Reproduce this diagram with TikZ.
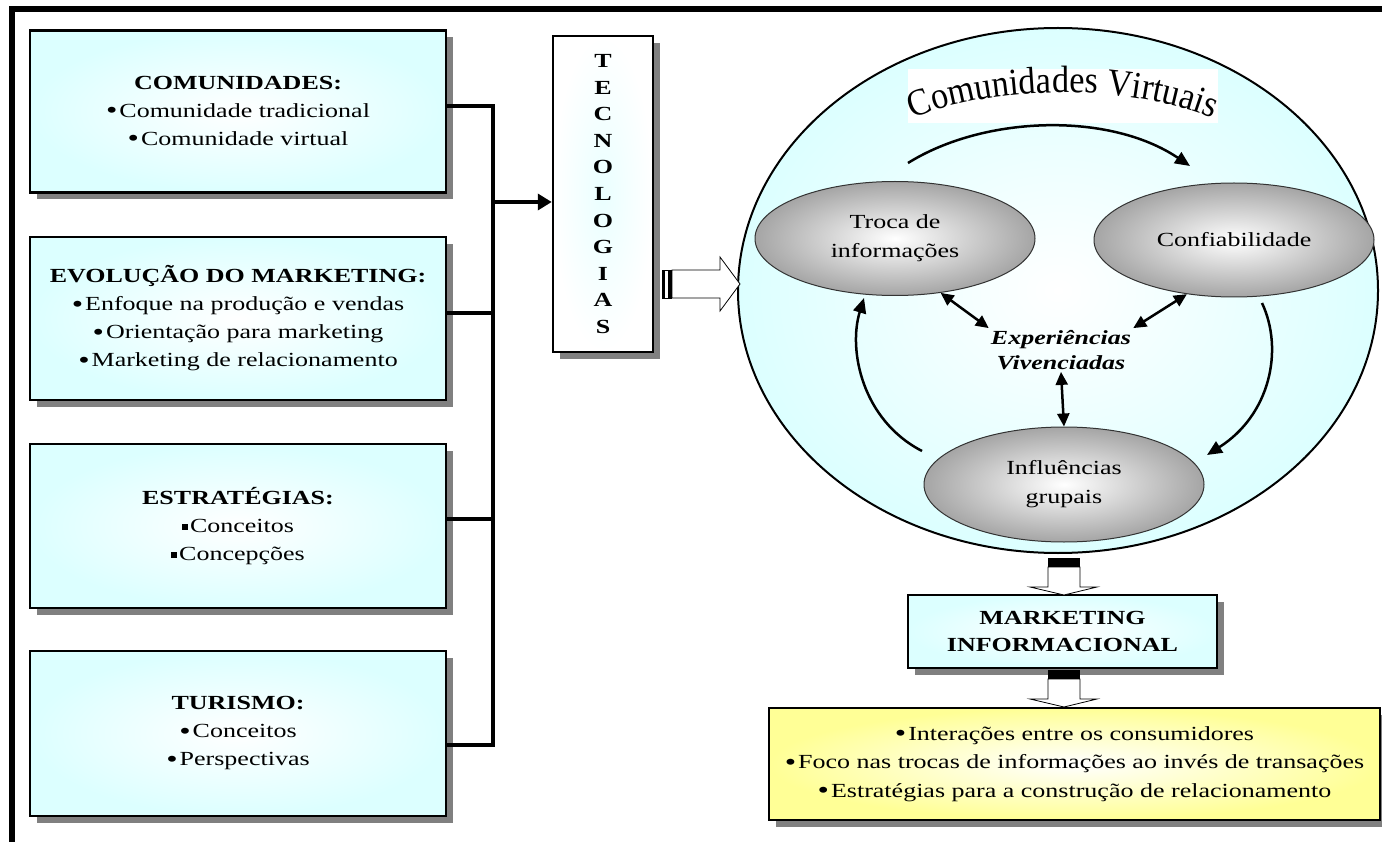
\documentclass[tikz,border=0pt]{standalone}
\usepackage{fontspec}
\setmainfont{Liberation Serif}[FakeStretch=1.3]
\newfontfamily\arcfont{Liberation Serif}[FakeStretch=0.9]
\usetikzlibrary{shapes.geometric,arrows.meta,shadows,decorations.text,calc}

\definecolor{boxcyan}{RGB}{220,255,255}
\definecolor{ellgray}{RGB}{165,165,165}
\definecolor{boxyellow}{RGB}{255,255,150}
\definecolor{shadowgray}{RGB}{128,128,128}

\newcommand{\itembullet}{\raisebox{-1.6pt}{\scalebox{1.25}{\textbullet}}\hspace{2pt}}
\newcommand{\itemsquare}{\rule[2pt]{6pt}{6pt}\hspace{2pt}}

\begin{document}
\begin{tikzpicture}[x=1pt,y=-1pt,
  txt/.style={font=\fontsize{20}{28}\selectfont, align=center},
  boxshadow/.style={drop shadow={shadow xshift=7pt, shadow yshift=-7pt, fill=shadowgray, opacity=1}},
  topicbox/.style={txt, draw=black, line width=2.5pt, minimum width=416pt, minimum height=162pt,
    inner color=white, outer color=boxcyan, boxshadow},
  oval/.style={ellipse, draw=black!80, line width=1pt, minimum width=280pt, minimum height=114pt,
    inner color=white, outer color=ellgray, font=\fontsize{20}{29}\selectfont, align=center, inner sep=0pt},
  conn/.style={line width=4pt},
  flow/.style={line width=2.5pt, -{Triangle[length=15pt,width=13pt]}},
  twoway/.style={line width=2.5pt, {Triangle[length=13pt,width=12pt]}-{Triangle[length=13pt,width=12pt]}},
  hollow/.style={draw=black, line width=0.8pt, fill=white}
]
\useasboundingbox (0,0) rectangle (1382,842);
\fill[white] (0,0) rectangle (1382,842);

% page frame (top and left edges)
\fill[black] (9,6) rectangle (1382,12);
\fill[black] (9,6) rectangle (15,842);

% topic boxes on the left
\node[topicbox] (b1) at (238,111.5) {{\bfseries COMUNIDADES:}\\ \itembullet Comunidade tradicional\\ \itembullet Comunidade virtual};
\node[topicbox, minimum height=163pt] (b2) at (238,318.5) {{\bfseries EVOLUÇÃO DO MARKETING:}\\ \itembullet Enfoque na produção e vendas\\ \itembullet Orientação para marketing\\ \itembullet Marketing de relacionamento};
\node[topicbox, minimum height=164pt] (b3) at (238,526) {{\bfseries ESTRATÉGIAS:}\\ \itemsquare Conceitos\\ \itemsquare Concepções};
\node[topicbox, minimum height=165pt] (b4) at (238,733.5) {{\bfseries TURISMO:}\\ \itembullet Conceitos\\ \itembullet Perspectivas};

% technology column
\node[draw=black, line width=2.5pt, minimum width=100pt, minimum height=316pt, inner color=boxcyan!60, outer color=white,
  boxshadow, font=\bfseries\fontsize{20}{26.6}\selectfont, align=center] (tec) at (603,194)
  {T\\E\\C\\N\\O\\L\\O\\G\\I\\A\\S};

% bus joining the topic boxes
\coordinate (busbot) at (493,745);
\coordinate (busmid) at (493,202);
\draw[conn] ([yshift=5.5pt]b1.east) -| (busbot) -- ([yshift=-11.5pt]b4.east);
\draw[conn] ([yshift=5.5pt]b2.east) -- ++(47,0);
\draw[conn] ([yshift=7pt]b3.east) -- ++(47,0);
\draw[conn, -{Triangle[length=14pt,width=16pt]}] (busmid) -- (busmid -| tec.west);

% virtual communities
\node[ellipse, draw=black, line width=2pt, minimum width=640pt, minimum height=525pt,
  inner color=white, outer color=boxcyan] (cv) at (1058,290.5) {};
\node[fill=white, minimum width=310pt, minimum height=54pt, inner sep=0pt] (cvtitle) at (1063,96) {};
\path[decorate, decoration={text along path, text align=center,
  text={|\arcfont\fontsize{38}{38}\selectfont|Comunidades Virtuais}}]
  (890,130) .. controls (975,80) and (1150,80) .. (1236,130);

\node[oval] (troca) at (895,238.5) {Troca de\\informações};
\node[oval] (conf) at (1234,240) {Confiabilidade};
\node[oval, minimum height=115pt] (infl) at (1064,484.5) {Influências\\grupais};
\node[font=\bfseries\itshape\fontsize{20}{25}\selectfont, align=center, inner sep=2pt] (exp) at (1061,350)
  {Experiências\\Vivenciadas};

% cycle arrows
\coordinate (a1) at (908,163);
\coordinate (a2) at (1190,166);
\coordinate (l1) at (922,451);
\coordinate (l2) at (864,298);
\coordinate (r1) at (1262,303);
\coordinate (r2) at (1207,455);
\draw[flow] (a1) .. controls (985,115) and (1110,112) .. (a2);
\draw[flow] (l1) .. controls (862,420) and (848,350) .. (l2);
\draw[flow] (r1) .. controls (1284,350) and (1270,415) .. (r2);
\draw[twoway] (troca.310) -- (exp.north west);
\draw[twoway] (conf.229) -- (exp.north east);
\draw[twoway] (exp.south) -- (infl.north);

% block arrow from the technology column
\fill[black] (662,270) rectangle (665,298);
\fill[black] (668,270) rectangle (672,298);
\draw[line width=0.8pt] (662,270) -- (672,270) (662,298) -- (672,298);
\draw[hollow] (672,270) -- (720,270) -- (720,257) -- (740,284) -- (720,311) -- (720,298) -- (672,298) -- cycle;

% informational marketing
\node[draw=black, line width=2.5pt, minimum width=309pt, minimum height=73pt, inner color=white, outer color=boxcyan,
  boxshadow, font=\bfseries\fontsize{20}{27}\selectfont, align=center] (mkt) at (1062.5,631.5)
  {MARKETING\\INFORMACIONAL};

\node[draw=black, line width=2.5pt, minimum width=611pt, minimum height=112pt, inner color=white, outer color=boxyellow,
  boxshadow, font=\fontsize{20}{28.5}\selectfont, align=center] (res) at (1074.5,764)
  {\itembullet Interações entre os consumidores\\
   \itembullet Foco nas trocas de informações ao invés de transações\\
   \itembullet Estratégias para a construção de relacionamento};

% block arrows down
\foreach \dy in {0,112}{
  \fill[black] (1048,558+\dy) rectangle (1080,567+\dy);
  \draw[hollow] (1048,567+\dy) -- (1080,567+\dy) -- (1080,587+\dy) -- (1097,587+\dy) -- (1064,595+\dy)
    -- (1030,587+\dy) -- (1048,587+\dy) -- cycle;
}
\end{tikzpicture}
\end{document}
